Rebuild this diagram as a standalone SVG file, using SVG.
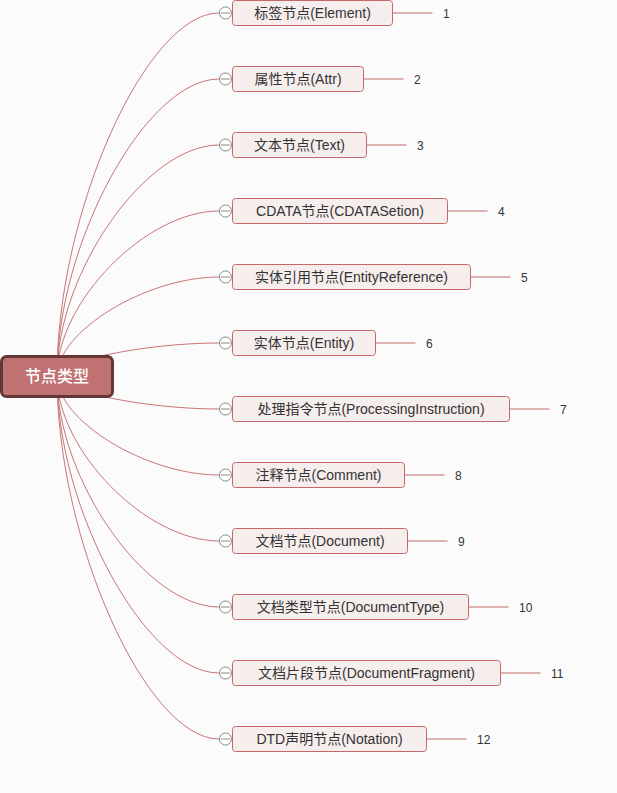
<svg xmlns="http://www.w3.org/2000/svg" width="617" height="793" viewBox="0 0 617 793">
<style>
.bg{fill:#fbfbfb}
.curve{fill:none;stroke:#c97676;stroke-width:1}
.tail{stroke:#c46a6a;stroke-width:1}
.box{fill:#f6eded;stroke:#c46868;stroke-width:1}
.lbl{font-family:"Liberation Sans","Noto Sans CJK SC",sans-serif;font-size:14px;fill:#333;text-anchor:middle}
.num{font-family:"Liberation Sans","Noto Sans CJK SC",sans-serif;font-size:12px;fill:#333}
.tog{fill:#fff;stroke:#8a8a8a;stroke-width:1}
.togl{stroke:#8a8a8a;stroke-width:1}
.root{fill:#c07171;stroke:#643636;stroke-width:3}
.rootl{font-family:"Noto Sans CJK SC",sans-serif;font-size:16px;font-weight:500;fill:#fff;text-anchor:middle}
</style>
<rect class="bg" x="0" y="0" width="617" height="793"/>
<g id="connectors">
<path class="curve" d="M57,376 C57,212.6 146.1,13 219,13"/>
<path class="curve" d="M57,376 C57,242.3 146.1,79 219,79"/>
<path class="curve" d="M57,376 C57,272 146.1,145 219,145"/>
<path class="curve" d="M57,376 C57,301.7 146.1,211 219,211"/>
<path class="curve" d="M57,376 C57,331.4 146.1,277 219,277"/>
<path class="curve" d="M57,376 C57,361.2 146.1,343 219,343"/>
<path class="curve" d="M57,376 C57,390.9 146.1,409 219,409"/>
<path class="curve" d="M57,376 C57,420.6 146.1,475 219,475"/>
<path class="curve" d="M57,376 C57,450.3 146.1,541 219,541"/>
<path class="curve" d="M57,376 C57,480 146.1,607 219,607"/>
<path class="curve" d="M57,376 C57,509.7 146.1,673 219,673"/>
<path class="curve" d="M57,376 C57,539.4 146.1,739 219,739"/>
</g>
<g id="root">
<rect class="root" x="1.5" y="356.5" width="111" height="40" rx="5"/>
<text class="rootl" x="57" y="382">节点类型</text>
</g>
<g id="n1">
<line class="tail" x1="392.5" y1="13" x2="432.5" y2="13"/>
<rect class="box" x="232.5" y="0.5" width="160" height="25" rx="3"/>
<text class="lbl" x="312.5" y="18">标签节点(Element)</text>
<text class="num" x="443" y="17.5">1</text>
<circle class="tog" cx="225.5" cy="13" r="6"/><line class="togl" x1="221" y1="13" x2="230" y2="13"/>
</g>
<g id="n2">
<line class="tail" x1="363.5" y1="79" x2="403.5" y2="79"/>
<rect class="box" x="232.5" y="66.5" width="131" height="25" rx="3"/>
<text class="lbl" x="298" y="84">属性节点(Attr)</text>
<text class="num" x="414" y="83.5">2</text>
<circle class="tog" cx="225.5" cy="79" r="6"/><line class="togl" x1="221" y1="79" x2="230" y2="79"/>
</g>
<g id="n3">
<line class="tail" x1="366.5" y1="145" x2="406.5" y2="145"/>
<rect class="box" x="232.5" y="132.5" width="134" height="25" rx="3"/>
<text class="lbl" x="299.5" y="150">文本节点(Text)</text>
<text class="num" x="417" y="149.5">3</text>
<circle class="tog" cx="225.5" cy="145" r="6"/><line class="togl" x1="221" y1="145" x2="230" y2="145"/>
</g>
<g id="n4">
<line class="tail" x1="447.5" y1="211" x2="487.5" y2="211"/>
<rect class="box" x="232.5" y="198.5" width="215" height="25" rx="3"/>
<text class="lbl" x="340" y="216">CDATA节点(CDATASetion)</text>
<text class="num" x="498" y="215.5">4</text>
<circle class="tog" cx="225.5" cy="211" r="6"/><line class="togl" x1="221" y1="211" x2="230" y2="211"/>
</g>
<g id="n5">
<line class="tail" x1="470.5" y1="277" x2="510.5" y2="277"/>
<rect class="box" x="232.5" y="264.5" width="238" height="25" rx="3"/>
<text class="lbl" x="351.5" y="282">实体引用节点(EntityReference)</text>
<text class="num" x="521" y="281.5">5</text>
<circle class="tog" cx="225.5" cy="277" r="6"/><line class="togl" x1="221" y1="277" x2="230" y2="277"/>
</g>
<g id="n6">
<line class="tail" x1="375.5" y1="343" x2="415.5" y2="343"/>
<rect class="box" x="232.5" y="330.5" width="143" height="25" rx="3"/>
<text class="lbl" x="304" y="348">实体节点(Entity)</text>
<text class="num" x="426" y="347.5">6</text>
<circle class="tog" cx="225.5" cy="343" r="6"/><line class="togl" x1="221" y1="343" x2="230" y2="343"/>
</g>
<g id="n7">
<line class="tail" x1="509.5" y1="409" x2="549.5" y2="409"/>
<rect class="box" x="232.5" y="396.5" width="277" height="25" rx="3"/>
<text class="lbl" x="371" y="414">处理指令节点(ProcessingInstruction)</text>
<text class="num" x="560" y="413.5">7</text>
<circle class="tog" cx="225.5" cy="409" r="6"/><line class="togl" x1="221" y1="409" x2="230" y2="409"/>
</g>
<g id="n8">
<line class="tail" x1="404.5" y1="475" x2="444.5" y2="475"/>
<rect class="box" x="232.5" y="462.5" width="172" height="25" rx="3"/>
<text class="lbl" x="318.5" y="480">注释节点(Comment)</text>
<text class="num" x="455" y="479.5">8</text>
<circle class="tog" cx="225.5" cy="475" r="6"/><line class="togl" x1="221" y1="475" x2="230" y2="475"/>
</g>
<g id="n9">
<line class="tail" x1="407.5" y1="541" x2="447.5" y2="541"/>
<rect class="box" x="232.5" y="528.5" width="175" height="25" rx="3"/>
<text class="lbl" x="320" y="546">文档节点(Document)</text>
<text class="num" x="458" y="545.5">9</text>
<circle class="tog" cx="225.5" cy="541" r="6"/><line class="togl" x1="221" y1="541" x2="230" y2="541"/>
</g>
<g id="n10">
<line class="tail" x1="468.5" y1="607" x2="508.5" y2="607"/>
<rect class="box" x="232.5" y="594.5" width="236" height="25" rx="3"/>
<text class="lbl" x="350.5" y="612">文档类型节点(DocumentType)</text>
<text class="num" x="519" y="611.5">10</text>
<circle class="tog" cx="225.5" cy="607" r="6"/><line class="togl" x1="221" y1="607" x2="230" y2="607"/>
</g>
<g id="n11">
<line class="tail" x1="500.5" y1="673" x2="540.5" y2="673"/>
<rect class="box" x="232.5" y="660.5" width="268" height="25" rx="3"/>
<text class="lbl" x="366.5" y="678">文档片段节点(DocumentFragment)</text>
<text class="num" x="551" y="677.5">11</text>
<circle class="tog" cx="225.5" cy="673" r="6"/><line class="togl" x1="221" y1="673" x2="230" y2="673"/>
</g>
<g id="n12">
<line class="tail" x1="426.5" y1="739" x2="466.5" y2="739"/>
<rect class="box" x="232.5" y="726.5" width="194" height="25" rx="3"/>
<text class="lbl" x="329.5" y="744">DTD声明节点(Notation)</text>
<text class="num" x="477" y="743.5">12</text>
<circle class="tog" cx="225.5" cy="739" r="6"/><line class="togl" x1="221" y1="739" x2="230" y2="739"/>
</g>
</svg>
